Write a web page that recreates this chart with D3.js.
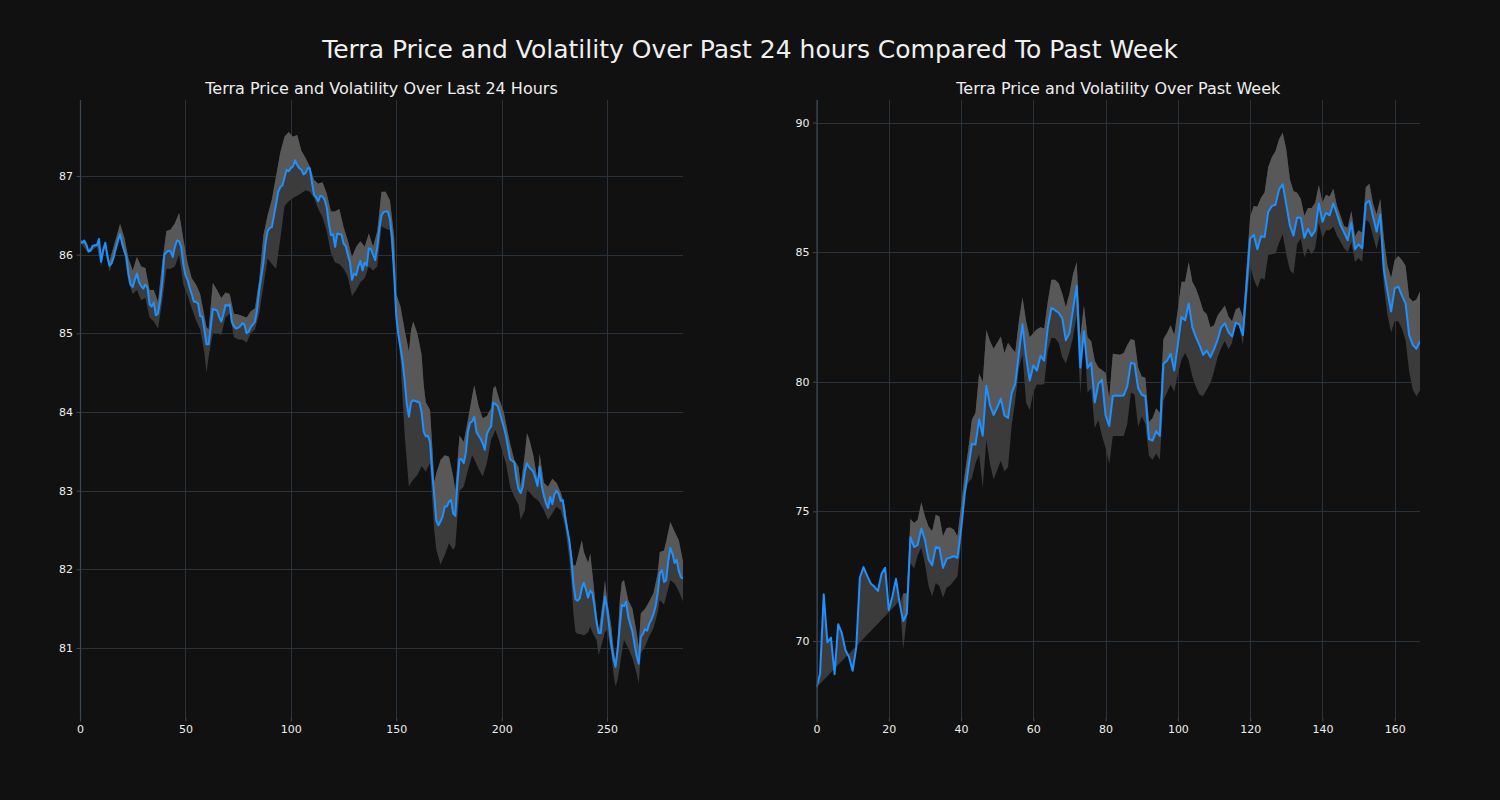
<!DOCTYPE html>
<html><head><meta charset="utf-8">
<script src="https://cdn.jsdelivr.net/npm/d3@7/dist/d3.min.js"></script>
<style>body{margin:0;background:#111111;}svg{display:block;}</style>
</head><body>
<svg id="c" width="1500" height="800"></svg>
<script>
// ---------- Last 24 hours (5-minute steps) ----------
const dayPrice = [
86.18,86.15,86.18,86.13,86.04,86.05,86.11,86.12,86.12,86.20,
85.91,86.06,86.15,85.97,85.86,85.89,85.97,86.08,86.18,86.26,
86.14,86.05,85.97,85.75,85.62,85.59,85.68,85.76,85.65,85.60,
85.57,85.62,85.58,85.37,85.34,85.39,85.23,85.25,85.42,85.65,
86.00,86.03,86.05,86.04,85.97,86.10,86.18,86.17,86.10,85.88,
85.74,85.68,85.58,85.50,85.40,85.40,85.38,85.22,85.21,85.04,
84.86,84.86,85.08,85.31,85.30,85.29,85.21,85.15,85.24,85.36,
85.35,85.37,85.15,85.09,85.06,85.07,85.09,85.13,85.11,85.00,
85.02,85.08,85.11,85.15,85.30,85.55,85.72,85.90,86.15,86.30,
86.34,86.35,86.50,86.64,86.80,86.86,86.88,86.98,87.08,87.06,
87.10,87.12,87.20,87.14,87.10,87.08,87.02,87.04,87.10,87.10,
86.92,86.76,86.73,86.68,86.75,86.74,86.70,86.60,86.40,86.25,
86.26,86.10,86.27,86.26,86.26,86.14,86.11,86.00,85.91,85.68,
85.76,85.74,85.85,85.92,85.80,85.90,85.86,86.08,86.07,86.00,
85.93,86.10,86.33,86.50,86.54,86.55,86.55,86.45,86.20,85.75,
85.22,84.98,84.82,84.65,84.40,84.10,83.94,84.12,84.15,84.14,
84.13,84.12,84.00,83.75,83.69,83.70,83.62,83.25,82.95,82.62,
82.56,82.61,82.67,82.80,82.80,82.86,82.88,82.71,82.68,83.10,
83.40,83.40,83.35,83.48,83.75,83.86,83.88,83.94,83.75,83.70,
83.66,83.60,83.52,83.72,83.78,83.82,84.12,84.10,84.08,84.00,
83.90,83.81,83.70,83.55,83.40,83.38,83.36,83.15,83.02,82.97,
83.05,83.25,83.35,83.30,83.27,83.24,83.16,83.06,83.30,83.06,
82.94,82.84,82.78,82.92,82.83,82.95,83.00,82.96,82.87,82.88,
82.67,82.52,82.38,82.15,81.82,81.62,81.60,81.63,81.76,81.83,
81.74,81.64,81.73,81.70,81.53,81.33,81.19,81.19,81.44,81.65,
81.50,81.27,81.04,80.87,80.76,80.98,81.27,81.55,81.53,81.59,
81.40,81.30,81.21,81.05,80.90,80.80,81.14,81.18,81.24,81.22,
81.31,81.36,81.43,81.53,81.70,81.95,81.99,81.84,81.86,82.10,
82.27,82.20,82.08,82.12,81.98,81.90,81.88
];
const dayBandIdx = [0,4,8,10,12,14,17,19,21,23,25,27,29,31,33,35,37,39,41,43,45,47,49,51,53,55,57,59,60,61,63,65,67,69,71,
73,75,77,79,81,83,85,87,89,91,93,95,97,99,101,103,105,107,109,111,113,115,117,119,121,123,125,127,129,131,133,135,137,139,
141,143,145,147,149,150,152,154,156,157,158,160,162,163,164,166,167,168,169,171,173,175,177,178,179,180,182,184,186,187,189,191,193,195,196,197,199,201,202,204,206,208,209,211,212,
213,215,217,218,220,222,224,226,228,230,232,233,234,235,236,238,239,241,242,243,245,246,248,249,250,252,253,254,255,256,257,258,260,262,264,265,266,268,270,272,274,275,277,278,280,282,284,286];
const dayBandHi = [86.20,86.07,86.14,85.98,86.17,85.92,86.20,86.39,86.22,85.95,85.80,85.97,85.85,85.83,85.55,85.55,85.40,85.90,86.30,86.32,86.40,86.53,86.20,85.90,85.70,85.62,85.50,85.22,85.08,85.05,85.64,85.55,85.45,85.52,85.50,
85.25,85.24,85.22,85.20,85.28,85.32,85.68,86.25,86.50,86.70,87.00,87.30,87.50,87.56,87.50,87.52,87.32,87.23,87.12,86.95,86.90,86.92,86.78,86.55,86.55,86.58,86.35,86.18,85.97,86.10,86.17,86.10,86.27,86.10,
86.30,86.80,86.80,86.69,86.23,85.50,85.34,85.04,84.77,85.04,85.15,85.00,84.73,84.35,84.12,84.03,83.60,83.11,83.22,83.39,83.45,83.43,83.18,83.00,83.35,83.70,83.62,83.90,84.20,84.34,84.08,83.92,83.95,84.05,84.30,84.33,84.15,84.00,83.86,83.60,83.39,83.30,83.05,83.47,83.73,
83.66,83.45,83.13,83.47,83.10,83.05,83.15,83.10,82.98,82.80,82.40,82.25,82.05,82.05,82.15,82.37,82.22,82.08,82.20,81.95,81.44,81.19,81.60,81.86,81.61,81.27,81.00,80.85,81.10,81.60,81.84,81.86,81.61,81.50,81.20,81.02,81.44,81.50,81.59,81.70,81.95,82.22,82.24,82.35,82.60,82.48,82.37,82.10];
const dayBandLo = [86.16,86.02,86.10,85.85,86.10,85.78,86.05,86.22,86.00,85.65,85.50,85.55,85.42,85.45,85.20,85.15,85.06,85.40,85.82,85.82,85.85,86.00,85.62,85.48,85.32,85.17,85.05,84.75,84.50,84.70,85.00,85.00,84.98,85.20,85.25,
84.95,84.92,84.92,84.88,85.00,85.05,85.25,85.60,85.95,85.88,85.82,86.20,86.62,86.68,86.72,86.75,86.78,86.82,86.80,86.72,86.58,86.48,86.30,86.02,85.90,85.88,85.82,85.72,85.47,85.55,85.65,85.70,85.85,85.80,
85.85,86.36,86.33,86.31,85.70,85.17,84.65,83.70,83.05,83.10,83.14,83.20,83.31,83.28,83.24,83.35,82.90,82.50,82.25,82.06,82.18,82.33,82.25,82.29,82.65,83.00,83.05,83.26,83.45,83.40,83.28,83.18,83.35,83.65,83.70,83.77,83.62,83.43,83.35,83.05,82.92,82.82,82.63,82.75,83.01,
82.99,82.92,82.88,82.85,82.75,82.63,82.71,82.80,82.75,82.55,82.15,81.85,81.45,81.20,81.18,81.17,81.16,81.20,81.27,81.20,81.10,80.91,81.10,81.20,81.23,80.93,80.68,80.51,80.60,80.76,80.95,81.10,81.00,80.87,80.68,80.55,80.93,81.02,81.15,81.25,81.45,81.61,81.55,81.65,81.86,81.82,81.72,81.59];
const dayXTicks = [0,50,100,150,200,250];
const dayYTicks = [81,82,83,84,85,86,87];

// ---------- Past week (hourly steps) ----------
const weekPrice = [
68.21,68.75,71.80,69.95,70.13,68.72,70.65,70.30,69.65,69.38,
68.85,69.75,72.44,72.85,72.52,72.22,72.10,71.93,72.60,72.82,
71.20,71.72,72.40,71.45,70.77,71.05,74.00,73.63,73.70,74.34,
73.90,73.15,72.92,73.63,73.59,72.82,73.17,73.22,73.27,73.21,
74.30,75.65,76.65,77.60,77.58,78.55,77.92,79.85,79.10,78.72,
79.00,79.35,78.70,78.60,79.55,79.92,81.10,82.22,80.96,80.05,
80.63,80.43,81.00,80.81,82.10,82.85,82.76,82.66,82.45,81.60,
81.88,82.80,83.70,80.55,81.95,80.53,80.73,79.20,79.92,80.08,
78.70,78.30,79.45,79.47,79.46,79.47,79.82,80.73,80.69,79.75,
79.50,79.44,77.79,77.73,78.09,77.91,80.69,80.81,81.08,80.43,
81.45,82.50,82.37,83.02,82.10,81.72,81.40,81.04,81.20,80.95,
81.25,81.62,82.10,82.25,81.91,81.75,82.28,82.21,81.80,83.70,
85.53,85.66,85.11,85.61,85.58,86.55,86.78,86.83,87.42,87.62,
86.83,86.02,85.64,86.34,86.33,85.55,85.90,85.62,85.84,86.88,
86.17,86.52,86.42,86.88,86.48,86.05,85.75,85.46,86.14,85.11,
85.30,85.15,86.88,86.98,86.37,85.79,86.45,84.31,83.48,82.71,
83.60,83.67,83.32,83.02,81.80,81.42,81.27,81.57
];
const weekBandHi = [
null,null,null,null,null,null,null,null,null,null,
null,null,null,null,null,null,null,null,null,null,
null,null,null,null,71.83,71.83,74.71,74.55,74.68,75.35,
74.81,74.42,74.23,74.87,74.80,74.04,74.36,74.38,74.30,74.04,
75.20,76.40,77.40,78.53,78.80,80.32,80.00,82.00,81.57,81.27,
81.50,81.75,81.11,81.50,81.30,81.14,82.33,83.25,82.33,81.72,
81.88,82.03,82.10,82.05,83.09,83.93,83.93,83.80,83.40,82.87,
83.40,84.16,84.62,81.72,82.94,81.72,81.57,80.81,80.55,80.45,
80.35,79.36,81.08,81.06,81.04,81.11,81.42,81.65,81.60,80.55,
80.20,80.15,78.45,78.60,78.98,78.80,81.65,81.88,82.18,81.80,
82.80,83.86,83.86,84.62,83.86,83.60,83.20,82.75,82.60,82.10,
82.18,82.56,82.75,82.94,82.52,82.33,82.79,82.87,82.49,84.40,
86.37,86.78,86.75,87.10,87.30,88.28,88.66,88.89,89.35,89.60,
88.96,87.80,87.36,87.29,87.06,86.40,86.70,86.70,86.90,87.59,
86.91,87.21,87.15,87.44,86.80,86.40,86.00,85.95,86.60,85.61,
85.84,85.75,87.50,87.64,86.88,86.45,87.06,85.53,84.47,84.00,
84.70,84.85,84.70,84.47,83.25,83.10,83.17,83.48
];
const weekBandLo = [
68.21,68.35,68.50,68.64,68.79,68.93,69.08,69.22,69.37,69.51,
69.66,69.80,69.95,70.09,70.24,70.38,70.53,70.67,70.82,70.96,
71.11,71.25,71.40,71.60,69.68,70.90,73.01,72.80,73.30,73.60,
73.00,72.12,71.73,72.24,72.12,71.67,72.05,72.15,72.31,72.50,
73.80,75.65,76.10,76.28,76.86,77.20,75.90,77.76,76.84,76.23,
76.60,76.95,76.54,76.70,78.30,79.28,80.50,81.05,79.20,78.90,
79.60,79.89,79.88,79.90,81.19,81.70,81.68,81.50,80.95,80.70,
81.15,81.72,82.56,79.51,81.72,79.59,79.74,78.22,78.52,77.91,
77.45,76.84,77.91,77.91,77.91,77.91,78.37,79.59,79.50,78.25,
78.67,78.37,77.15,76.99,77.23,76.99,79.28,79.59,79.89,79.60,
80.30,80.85,81.11,80.81,80.20,79.80,79.50,79.45,79.70,79.95,
80.40,80.95,81.30,81.57,81.25,81.50,82.25,82.15,81.42,83.00,
84.47,83.93,83.63,84.00,83.93,84.89,84.92,84.95,85.35,85.69,
84.92,84.31,84.16,85.30,85.53,84.80,85.15,84.92,85.15,86.14,
85.53,85.84,85.84,85.99,85.65,85.40,85.15,85.00,85.38,84.62,
84.77,84.62,86.25,86.14,85.61,85.11,85.76,83.70,82.56,81.90,
82.33,82.33,82.05,81.60,80.40,79.70,79.44,79.66
];
const weekXTicks = [0,20,40,60,80,100,120,140,160];
const weekYTicks = [70,75,80,85,90];

const mainTitle = "Terra Price and Volatility Over Past 24 hours Compared To Past Week";
const dayTitle = "Terra Price and Volatility Over Last 24 Hours";
const weekTitle = "Terra Price and Volatility Over Past Week";

const svg = d3.select("#c");
const FONT = "DejaVu Sans, sans-serif";

svg.append("text").attr("x", 750).attr("y", 58).attr("text-anchor", "middle")
  .attr("fill", "#f0f0f0").attr("font-family", FONT).attr("font-size", 25).text(mainTitle);

function panel(o) {
  const x = d3.scaleLinear().domain(o.xDomain).range([o.left, o.right]);
  const y = d3.scaleLinear().domain(o.yDomain).range([o.bottom, o.top]);
  const g = svg.append("g");
  const clipId = "clip" + o.id;
  svg.append("defs").append("clipPath").attr("id", clipId)
    .append("rect").attr("x", o.left).attr("y", o.top)
    .attr("width", o.right - o.left).attr("height", o.bottom - o.top);

  // grid
  const grid = g.append("g").attr("stroke", "#2a323c").attr("stroke-width", 1);
  o.yTicks.forEach(t => grid.append("line").attr("x1", o.left).attr("x2", o.right)
    .attr("y1", Math.round(y(t)) + 0.5).attr("y2", Math.round(y(t)) + 0.5));
  o.xTicks.forEach(t => grid.append("line").attr("y1", o.top).attr("y2", o.bottom)
    .attr("x1", Math.round(x(t)) + 0.5).attr("x2", Math.round(x(t)) + 0.5));

  const plot = g.append("g").attr("clip-path", `url(#${clipId})`);
  const pricePts = o.price.map((v, i) => [x(i), y(v)]);
  const hiPts = o.bandIdx.map((k, j) => [x(k), y(o.bandHi[j] == null ? o.price[k] : o.bandHi[j])]);
  const loPts = o.bandIdx.map((k, j) => [x(k), y(o.bandLo[j])]);
  const line = d3.line();
  // darker band: lower bound to upper bound
  plot.append("path").attr("d", line(loPts.concat(hiPts.slice().reverse())) + "Z")
    .attr("fill", "#3b3b3b");
  // lighter band: price to upper bound
  const hiValid = o.bandIdx.map((k, j) => [k, o.bandHi[j]]).filter(d => d[1] != null)
    .map(d => [x(d[0]), y(d[1])]);
  const firstHi = o.bandIdx.find((k, j) => o.bandHi[j] != null);
  const priceSub = pricePts.slice(firstHi);
  plot.append("path").attr("d", line(priceSub.concat(hiValid.slice().reverse())) + "Z")
    .attr("fill", "#585858");
  // price line
  plot.append("path").attr("d", line(pricePts)).attr("fill", "none")
    .attr("stroke", "#1e90ff").attr("stroke-width", 2).attr("stroke-linejoin", "round");

  // left spine
  g.append("line").attr("x1", o.left + 0.5).attr("x2", o.left + 0.5).attr("y1", o.top).attr("y2", o.bottom)
    .attr("stroke", "#3c4754").attr("stroke-width", 1.2);

  // axes
  const yAxis = g.append("g").attr("transform", `translate(${o.left},0)`)
    .call(d3.axisLeft(y).tickValues(o.yTicks).tickSize(3.5).tickPadding(3.5).tickFormat(d3.format("d")));
  const xAxis = g.append("g").attr("transform", `translate(0,${o.bottom})`)
    .call(d3.axisBottom(x).tickValues(o.xTicks).tickSize(3.5).tickPadding(3.5).tickFormat(d3.format("d")));
  [yAxis, xAxis].forEach(a => {
    a.select(".domain").remove();
    a.selectAll(".tick line").attr("stroke", "#3c4754");
    a.selectAll(".tick text").attr("fill", "#eeeeee").attr("font-family", FONT).attr("font-size", 11);
  });

  g.append("text").attr("x", (o.left + o.right) / 2).attr("y", 94).attr("text-anchor", "middle")
    .attr("fill", "#eeeeee").attr("font-family", FONT).attr("font-size", 16).text(o.title);
}

panel({ id: "d", left: 80, right: 683, top: 100, bottom: 718,
  xDomain: [0, 286], yDomain: [80.11, 87.966],
  price: dayPrice, bandIdx: dayBandIdx, bandHi: dayBandHi, bandLo: dayBandLo,
  xTicks: dayXTicks, yTicks: dayYTicks, title: dayTitle });

panel({ id: "w", left: 816.5, right: 1420, top: 100, bottom: 718,
  xDomain: [0, 167], yDomain: [67.03, 90.868],
  price: weekPrice, bandIdx: d3.range(weekPrice.length), bandHi: weekBandHi, bandLo: weekBandLo,
  xTicks: weekXTicks, yTicks: weekYTicks, title: weekTitle });
</script>
</body></html>
